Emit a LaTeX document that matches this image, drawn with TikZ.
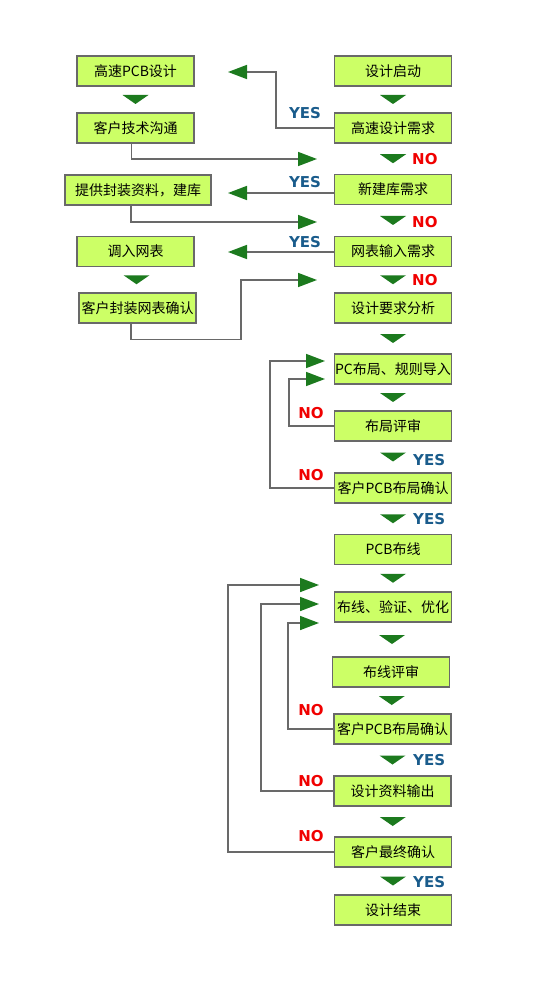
\documentclass[tikz,border=0pt]{standalone}
\usepackage{fontspec}
\usepackage{tikz}
\usetikzlibrary{arrows.meta, calc}
\setmainfont{Noto Sans CJK SC}
\newfontfamily\labelfont{DejaVu Sans}
\definecolor{BoxLime}{RGB}{204, 255, 102}
\definecolor{BoxEdge}{RGB}{105, 105, 105}
\definecolor{FlowGreen}{RGB}{28, 122, 30}
\definecolor{YesBlue}{RGB}{26, 92, 140}
\definecolor{NoRed}{RGB}{240, 0, 0}
\begin{document}
\begin{tikzpicture}[
    x=1pt, y=-1pt,
    box/.style={rectangle, draw=BoxEdge, line width=1.2pt, fill=BoxLime, minimum width=117pt, minimum height=30pt, inner sep=0.5pt, align=center, font=\fontsize{14}{16}\selectfont},
    link/.style={-{Triangle[length=19pt, width=14pt, color=FlowGreen]}, line width=1.6pt, draw=BoxEdge},
    tri/.style={fill=FlowGreen},
    yes/.style={text=YesBlue, font=\labelfont\bfseries\fontsize{15}{16}\selectfont, inner sep=0pt},
    no/.style={text=NoRed, font=\labelfont\bfseries\fontsize{15}{16}\selectfont, inner sep=0pt}
]
    \useasboundingbox (0,0) rectangle (550,1000);
    % Left column
    \node[box] (hspcb) at (135.5, 71) {高速PCB设计};
    \node[box] (tech) at (135.5, 128) {客户技术沟通};
    \node[box, minimum width=146pt] (lib) at (138, 190) {提供封装资料，建库};
    \node[box] (netin) at (135.5, 251.5) {调入网表};
    \node[box] (netcfm) at (137.5, 308) {客户封装网表确认};
    % Right column: requirements
    \node[box] (start) at (393, 71) {设计启动};
    \node[box] (hsreq) at (393, 128) {高速设计需求};
    \node[box] (libreq) at (393, 189.5) {新建库需求};
    \node[box] (netreq) at (393, 251.5) {网表输入需求};
    \node[box] (analysis) at (393, 308) {设计要求分析};
    % Right column: placement
    \node[box] (place) at (393, 369) {PC布局、规则导入};
    \node[box] (placerev) at (393, 426) {布局评审};
    \node[box] (placecfm) at (393, 488) {客户PCB布局确认};
    % Right column: routing
    \node[box] (route) at (393, 549.5) {PCB布线};
    \node[box] (routeopt) at (393, 607) {布线、验证、优化};
    \node[box] (routerev) at (391, 672) {布线评审};
    \node[box] (routecfm) at (392.5, 729) {客户PCB布局确认};
    \node[box] (output) at (392.5, 791) {设计资料输出};
    \node[box] (final) at (393, 852) {客户最终确认};
    \node[box] (finish) at (393, 910) {设计结束};
    % Free ends of the side arrows
    \coordinate (hsin) at (228, 72);
    \coordinate (libin) at (228, 193);
    \coordinate (netinl) at (228, 252);
    \coordinate (back1) at (317, 159);
    \coordinate (back2) at (317, 222);
    \coordinate (back3) at (317, 280);
    \coordinate (loopa) at (325, 361);
    \coordinate (loopb) at (325, 379);
    \coordinate (loopc) at (319, 585);
    \coordinate (loopd) at (319, 604);
    \coordinate (loope) at (319, 623);
    % Down triangles
    \foreach \a/\b in {hspcb/tech, netin/netcfm, start/hsreq, hsreq/libreq, libreq/netreq, netreq/analysis, analysis/place, place/placerev, placerev/placecfm, placecfm/route, route/routeopt, routeopt/routerev, routerev/routecfm, routecfm/output, output/final, final/finish}
        { \fill[tri] ($(\a.south)!0.5!(\b.north)$) ++(-13,-4.5) -- ++(26,0) -- ++(-13,9) -- cycle; }
    % Side arrows
    \draw[link] (hsreq.west) -- ++(-58,0) |- (hsin);
    \draw[link] (libreq.west |- libin) -- (libin);
    \draw[link] (netreq.west |- netinl) -- (netinl);
    \draw[link] ([xshift=-4pt]tech.south) |- (back1);
    \draw[link] ([xshift=-7pt]lib.south) |- (back2);
    \draw[link] ([xshift=-6.5pt]netcfm.south) -- ++(0,16) -| (241,280) -- (back3);
    \draw[link] (placerev.west) -| (289,379) -- (loopb);
    \draw[link] (placecfm.west) -| (270,361) -- (loopa);
    \draw[link] (routecfm.west) -| (288,623) -- (loope);
    \draw[link] (output.west) -| (261,604) -- (loopd);
    \draw[link] (final.west) -| (228,585) -- (loopc);
    % YES / NO labels
    \node[yes] (y1) at (305, 113) {YES};
    \node[yes] (y2) at (305, 182) {YES};
    \node[yes] (y3) at (305, 242) {YES};
    \foreach \n/\y in {y4/460, y5/519, y6/760, y7/882}
        { \node[yes, anchor=west] (\n) at (413, \y) {YES}; }
    \foreach \n/\y in {n1/159, n2/222, n3/280}
        { \node[no, anchor=west] (\n) at (412, \y) {NO}; }
    \foreach \n/\y in {n4/413, n5/475, n6/710, n7/781, n8/836}
        { \node[no] (\n) at (311, \y) {NO}; }
\end{tikzpicture}
\end{document}
